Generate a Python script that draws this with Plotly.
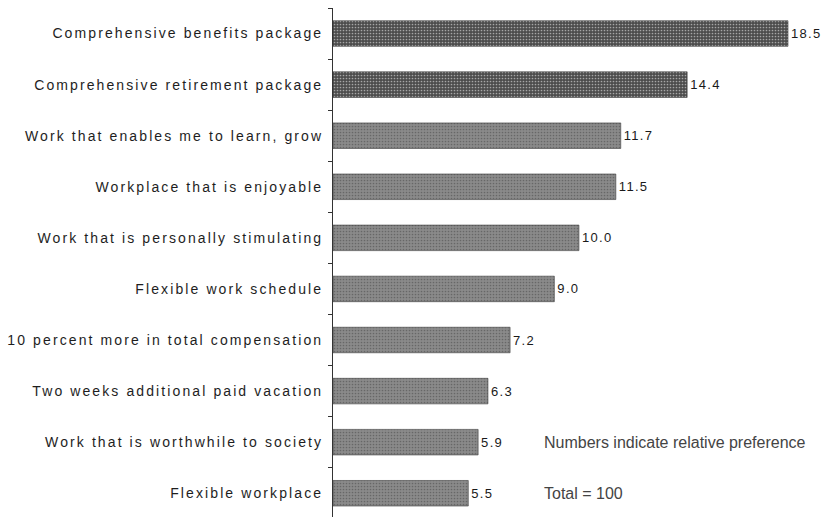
import plotly.graph_objects as go

# Relative preference for each workplace attribute (top to bottom)
categories = [
    "Comprehensive benefits package",
    "Comprehensive retirement package",
    "Work that enables me to learn, grow",
    "Workplace that is enjoyable",
    "Work that is personally stimulating",
    "Flexible work schedule",
    "10 percent more in total compensation",
    "Two weeks additional paid vacation",
    "Work that is worthwhile to society",
    "Flexible workplace",
]
values = [18.5, 14.4, 11.7, 11.5, 10.0, 9.0, 7.2, 6.3, 5.9, 5.5]
value_labels = [f"{v:.1f}" for v in values]
# the two package items are shaded darker
highlight = [True, True, False, False, False, False, False, False, False, False]

DARK = "#4c4c4c"
LIGHT = "#8a8a8a"
colors = [DARK if h else LIGHT for h in highlight]
pattern_fg = ["#6a6a6a" if h else "#a8a8a8" for h in highlight]

FONT = "Liberation Sans, Arial, sans-serif"


def spaced(label, px=2.0):
    return f'<span style="letter-spacing:{px}px">{label}</span>'


fig = go.Figure(
    go.Bar(
        x=values,
        y=categories,
        orientation="h",
        marker=dict(
            color=colors,
            line=dict(color="#3a3a3a", width=0.6),
            pattern=dict(shape=".", size=3, solidity=0.25, fgcolor=pattern_fg,
                         fillmode="overlay"),
        ),
        text=[spaced(t, 1.3) for t in value_labels],
        textposition="outside",
        cliponaxis=False,
        textfont=dict(family=FONT, size=13, color="#1a1a1a"),
        hoverinfo="skip",
    )
)

fig.update_layout(
    width=834,
    height=517,
    margin=dict(l=333, r=0, t=8, b=0),
    paper_bgcolor="white",
    plot_bgcolor="white",
    bargap=0.5,
    showlegend=False,
    xaxis=dict(
        range=[0, 20.37],
        visible=False,
        showgrid=False,
        zeroline=False,
    ),
    yaxis=dict(
        type="category",
        categoryorder="array",
        categoryarray=categories,
        tickmode="array",
        tickvals=categories,
        ticktext=[spaced(c, 2.1) for c in categories],
        range=[9.465, -0.5],
        tickson="boundaries",
        ticks="outside",
        ticklen=4,
        tickwidth=1,
        tickcolor="#333333",
        ticklabelstandoff=6,
        showline=True,
        linecolor="#333333",
        linewidth=1,
        showgrid=False,
        zeroline=False,
        tickfont=dict(family=FONT, size=14, color="#1e1e1e"),
        automargin=False,
    ),
    annotations=[
        dict(
            text="Numbers indicate relative preference",
            x=8.5, xref="x", y=categories[8], yref="y",
            xanchor="left", yanchor="middle", showarrow=False,
            font=dict(family=FONT, size=16, color="#444444"),
        ),
        dict(
            text="Total = 100",
            x=8.5, xref="x", y=categories[9], yref="y",
            xanchor="left", yanchor="middle", showarrow=False,
            font=dict(family=FONT, size=16, color="#444444"),
        ),
    ],
)

fig.write_html("out.html")
